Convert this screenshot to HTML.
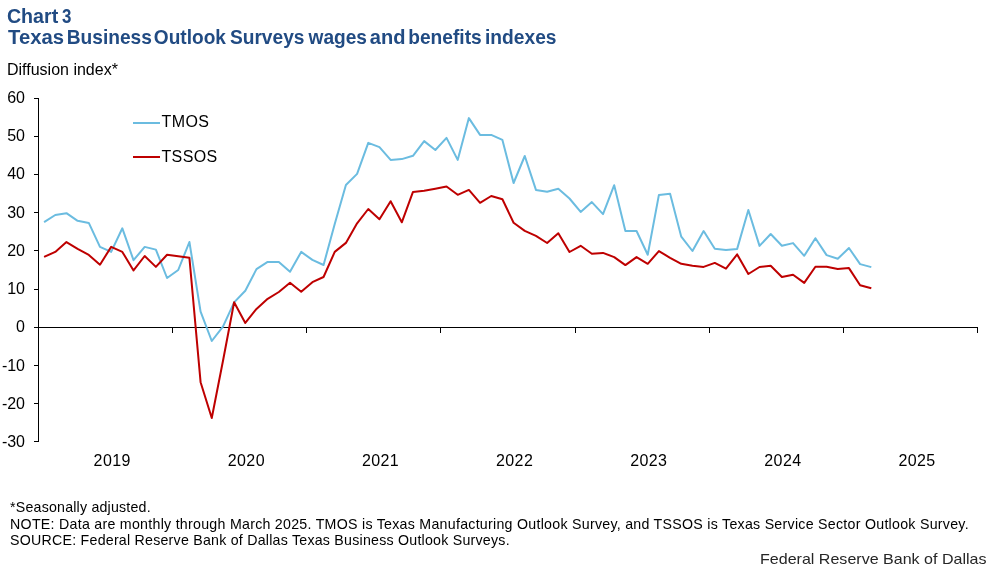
<!DOCTYPE html>
<html><head><meta charset="utf-8"><style>
html,body{margin:0;padding:0;background:#fff;}
body{width:997px;height:565px;overflow:hidden;position:relative;font-family:"Liberation Sans",sans-serif;}
svg{position:absolute;left:0;top:0;will-change:transform;}
.t{font-family:"Liberation Sans",sans-serif;}
</style></head><body>
<svg width="997" height="565" viewBox="0 0 997 565">
<g class="t" font-weight="bold" fill="#214B83" font-size="20">
<text transform="translate(6.92,23.00) scale(0.9824,1)">Chart</text><text transform="translate(61.90,23.00) scale(0.8455,1)">3</text><text transform="translate(8.10,44.00) scale(1.0148,1)">Texas</text><text transform="translate(66.74,44.00) scale(0.9586,1)">Business</text><text transform="translate(153.79,44.00) scale(0.9553,1)">Outlook</text><text transform="translate(229.94,44.00) scale(0.9579,1)">Surveys</text><text transform="translate(308.50,44.00) scale(0.9567,1)">wages</text><text transform="translate(369.80,44.00) scale(1.0030,1)">and</text><text transform="translate(408.24,44.00) scale(0.9587,1)">benefits</text><text transform="translate(485.04,44.00) scale(0.9603,1)">indexes</text>
</g>
<g class="t" font-size="16" fill="#000">
<text x="7" y="75">Diffusion index*</text>
<text x="25" y="103.00" text-anchor="end">60</text><text x="25" y="141.22" text-anchor="end">50</text><text x="25" y="179.44" text-anchor="end">40</text><text x="25" y="217.67" text-anchor="end">30</text><text x="25" y="255.89" text-anchor="end">20</text><text x="25" y="294.11" text-anchor="end">10</text><text x="25" y="332.33" text-anchor="end">0</text><text x="25" y="370.56" text-anchor="end">-10</text><text x="25" y="408.78" text-anchor="end">-20</text><text x="25" y="447.00" text-anchor="end">-30</text>
<text x="112.20" y="466" text-anchor="middle" letter-spacing="0.4">2019</text><text x="246.34" y="466" text-anchor="middle" letter-spacing="0.4">2020</text><text x="380.49" y="466" text-anchor="middle" letter-spacing="0.4">2021</text><text x="514.63" y="466" text-anchor="middle" letter-spacing="0.4">2022</text><text x="648.77" y="466" text-anchor="middle" letter-spacing="0.4">2023</text><text x="782.91" y="466" text-anchor="middle" letter-spacing="0.4">2024</text><text x="917.06" y="466" text-anchor="middle" letter-spacing="0.4">2025</text>
<text x="161.5" y="126.7" letter-spacing="0.4">TMOS</text>
<text x="161.5" y="161.7" letter-spacing="0.35">TSSOS</text>
</g>
<g stroke="#000" stroke-width="1" fill="none" shape-rendering="crispEdges">
<line x1="38.5" y1="98" x2="38.5" y2="442"/>
<line x1="38" y1="327.5" x2="978" y2="327.5"/>
<line x1="34" y1="98.50" x2="38.5" y2="98.50"/><line x1="34" y1="136.61" x2="38.5" y2="136.61"/><line x1="34" y1="174.72" x2="38.5" y2="174.72"/><line x1="34" y1="212.83" x2="38.5" y2="212.83"/><line x1="34" y1="250.94" x2="38.5" y2="250.94"/><line x1="34" y1="289.06" x2="38.5" y2="289.06"/><line x1="34" y1="327.17" x2="38.5" y2="327.17"/><line x1="34" y1="365.28" x2="38.5" y2="365.28"/><line x1="34" y1="403.39" x2="38.5" y2="403.39"/><line x1="34" y1="441.50" x2="38.5" y2="441.50"/>
<line x1="172.5" y1="327.5" x2="172.5" y2="333"/><line x1="306.5" y1="327.5" x2="306.5" y2="333"/><line x1="440.5" y1="327.5" x2="440.5" y2="333"/><line x1="575.5" y1="327.5" x2="575.5" y2="333"/><line x1="709.5" y1="327.5" x2="709.5" y2="333"/><line x1="843.5" y1="327.5" x2="843.5" y2="333"/><line x1="977.5" y1="327.5" x2="977.5" y2="333"/>
</g>
<g fill="none" stroke-width="2" stroke-linejoin="round" stroke-linecap="butt">
<line x1="133" y1="123" x2="160" y2="123" stroke="#6BBCE0" stroke-linecap="butt"/>
<line x1="133" y1="157" x2="160" y2="157" stroke="#BE0000" stroke-linecap="butt"/>
<polyline stroke="#6BBCE0" points="44.09,222.10 55.27,215.00 66.45,213.20 77.62,220.80 88.80,222.90 99.98,246.90 111.16,251.90 122.34,228.30 133.52,260.20 144.70,246.90 155.88,249.60 167.05,278.00 178.23,270.00 189.41,242.00 200.59,311.60 211.77,341.00 222.95,326.60 234.12,302.40 245.30,290.70 256.48,269.10 267.66,261.90 278.84,261.90 290.02,271.80 301.20,251.90 312.38,259.90 323.55,265.00 334.73,224.10 345.91,185.00 357.09,173.90 368.27,142.90 379.45,147.10 390.62,159.90 401.80,159.10 412.98,155.80 424.16,141.10 435.34,150.00 446.52,137.90 457.70,159.90 468.88,118.10 480.05,134.90 491.23,134.90 502.41,139.90 513.59,183.00 524.77,156.00 535.95,189.90 547.12,191.80 558.30,188.80 569.48,198.50 580.66,211.90 591.84,202.10 603.02,214.10 614.20,185.20 625.38,231.00 636.55,231.00 647.73,254.70 658.91,194.90 670.09,193.80 681.27,236.70 692.45,251.00 703.62,231.00 714.80,248.80 725.98,249.90 737.16,248.90 748.34,210.00 759.52,245.90 770.70,234.00 781.88,245.80 793.05,243.10 804.23,255.80 815.41,238.20 826.59,255.10 837.77,258.80 848.95,248.00 860.12,264.10 871.30,267.10"/>
<polyline stroke="#BE0000" points="44.09,256.90 55.27,251.90 66.45,242.10 77.62,248.90 88.80,254.90 99.98,264.70 111.16,246.90 122.34,251.90 133.52,270.40 144.70,256.00 155.88,266.90 167.05,254.70 178.23,256.20 189.41,257.80 200.59,382.20 211.77,418.00 222.95,361.00 234.12,302.30 245.30,322.90 256.48,308.90 267.66,298.80 278.84,292.00 290.02,282.70 301.20,291.70 312.38,282.20 323.55,277.00 334.73,251.90 345.91,242.90 357.09,223.30 368.27,209.00 379.45,219.30 390.62,201.20 401.80,222.30 412.98,191.90 424.16,190.70 435.34,188.70 446.52,186.50 457.70,194.80 468.88,189.90 480.05,202.80 491.23,196.00 502.41,199.30 513.59,222.70 524.77,230.90 535.95,235.90 547.12,243.00 558.30,233.20 569.48,252.00 580.66,245.80 591.84,253.70 603.02,252.90 614.20,257.10 625.38,265.10 636.55,257.10 647.73,263.80 658.91,251.10 670.09,257.80 681.27,263.80 692.45,265.80 703.62,266.90 714.80,262.90 725.98,268.70 737.16,254.40 748.34,274.00 759.52,267.00 770.70,265.80 781.88,277.00 793.05,274.70 804.23,282.90 815.41,266.80 826.59,266.80 837.77,268.90 848.95,268.10 860.12,285.20 871.30,288.20"/>
</g>
<g class="t" font-size="14.2" fill="#000">
<text x="10.1" y="511.7" textLength="140.5" lengthAdjust="spacing">*Seasonally adjusted.</text>
<text x="10.1" y="528.7" textLength="958.5" lengthAdjust="spacing">NOTE: Data are monthly through March 2025. TMOS is Texas Manufacturing Outlook Survey, and TSSOS is Texas Service Sector Outlook Survey.</text>
<text x="10.1" y="544.6" textLength="499.5" lengthAdjust="spacing">SOURCE: Federal Reserve Bank of Dallas Texas Business Outlook Surveys.</text>
</g>
<text class="t" x="760" y="563.6" textLength="226.5" lengthAdjust="spacingAndGlyphs" font-size="14.3" fill="#262626">Federal Reserve Bank of Dallas</text>
</svg>
</body></html>
